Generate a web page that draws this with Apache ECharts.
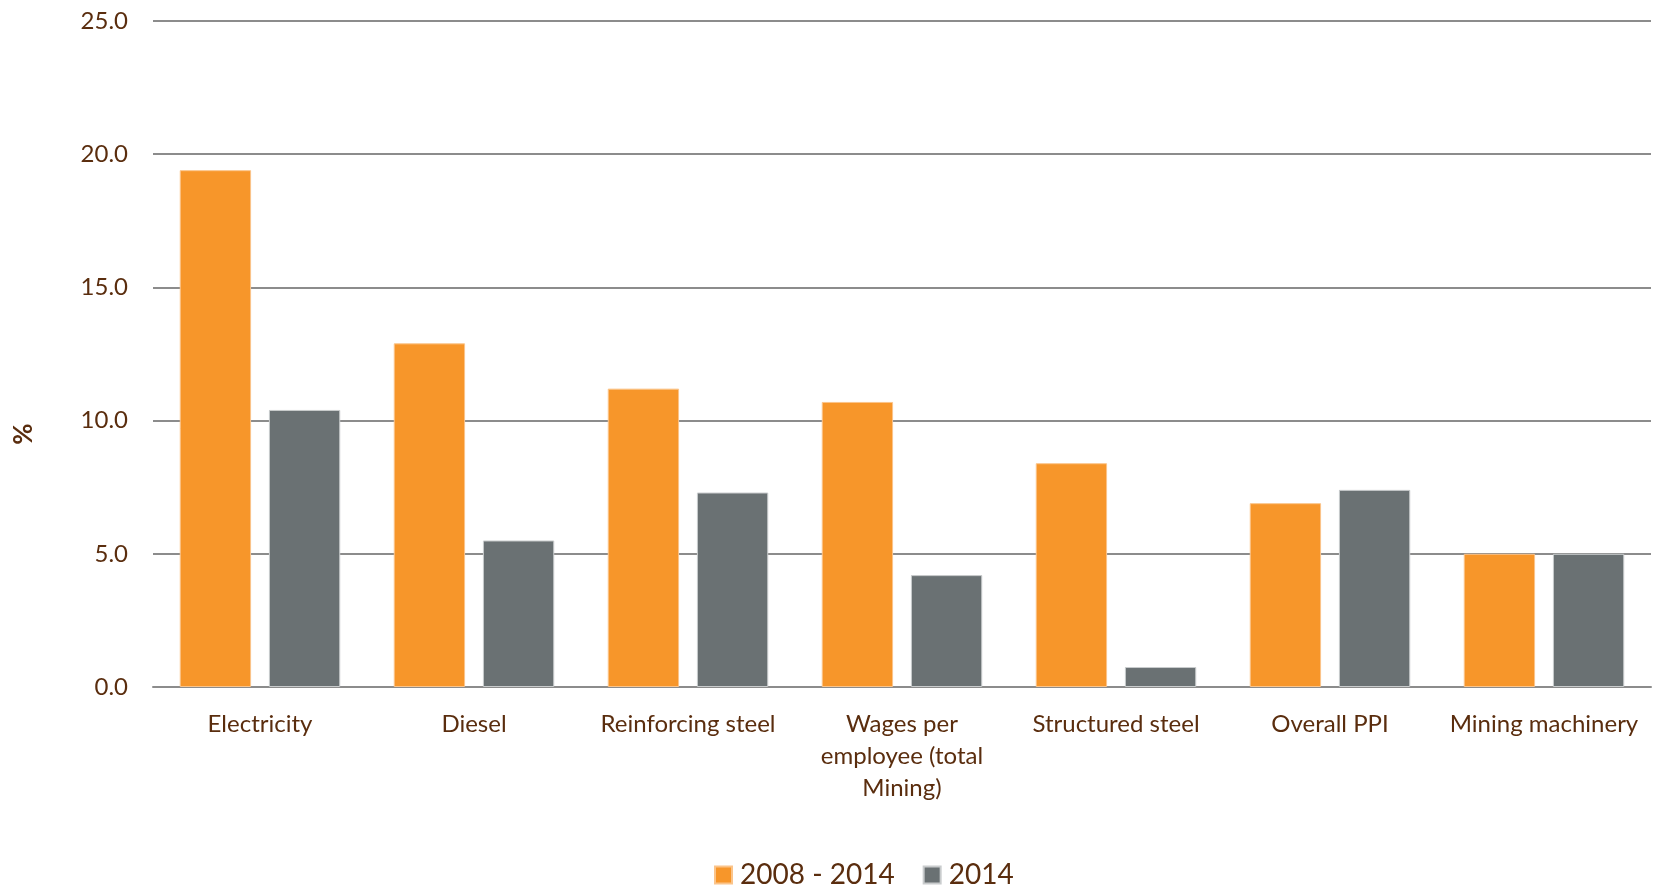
<!DOCTYPE html>
<html>
<head>
<meta charset="utf-8">
<script src="https://cdn.jsdelivr.net/npm/echarts@6/dist/echarts.min.js"></script>
<style>
html,body{margin:0;padding:0;background:#fff;}
#chart{width:1654px;height:888px;}
</style>
</head>
<body>
<div id="chart"></div>
<script>
const categories = ["Electricity", "Diesel", "Reinforcing steel", "Wages per\nemployee (total\nMining)", "Structured steel", "Overall PPI", "Mining machinery"];
const seriesNames = ["2008 - 2014", "2014"];
const values2008_2014 = [19.4, 12.9, 11.2, 10.7, 8.4, 6.9, 5.0];
const values2014 = [10.4, 5.5, 7.3, 4.2, 0.75, 7.4, 5.0];
const yTicks = [0, 5, 10, 15, 20, 25];

const textColor = '#5a2d0e';
const fontFamily = 'Lato, "Open Sans", sans-serif';

const chart = echarts.init(document.getElementById('chart'));
chart.setOption({
  animation: false,
  backgroundColor: '#ffffff',
  textStyle: { fontFamily: fontFamily, color: textColor },
  grid: { left: 153, right: 3, top: 21, bottom: 201, containLabel: false },
  legend: {
    top: 861,
    left: 714,
    padding: 0,
    itemWidth: 17,
    itemHeight: 17,
    itemGap: 28,
    icon: 'rect',
    textStyle: { fontSize: 28, color: textColor, fontFamily: fontFamily, padding: [0, 0, 0, 3] },
    data: seriesNames
  },
  xAxis: {
    type: 'category',
    data: categories,
    axisLine: { lineStyle: { color: '#8c8c8c', width: 2 } },
    axisTick: { show: false },
    axisLabel: { fontSize: 24, color: textColor, margin: 21, lineHeight: 32, interval: 0, fontFamily: fontFamily }
  },
  yAxis: {
    type: 'value',
    min: yTicks[0],
    max: yTicks[yTicks.length - 1],
    interval: 5,
    axisLine: { show: false },
    axisTick: { show: false },
    splitLine: { lineStyle: { color: '#8c8c8c', width: 2 } },
    axisLabel: { fontSize: 24, color: textColor, margin: 25, fontFamily: fontFamily, formatter: v => v.toFixed(1) }
  },
  graphic: [{
    type: 'text',
    x: 24, y: 434,
    rotation: Math.PI / 2,
    style: { text: '%', fontSize: 26, fontWeight: 'bold', fill: textColor, fontFamily: fontFamily, align: 'center', verticalAlign: 'middle' }
  }],
  series: [
    {
      name: seriesNames[0], type: 'bar', data: values2008_2014,
      barGap: '25%', barCategoryGap: '25%',
      itemStyle: { color: '#f7962a', borderColor: '#fbc48a', borderWidth: 1 }
    },
    {
      name: seriesNames[1], type: 'bar', data: values2014,
      itemStyle: { color: '#6a7173', borderColor: '#c9cccd', borderWidth: 1 }
    }
  ]
});
</script>
</body>
</html>
